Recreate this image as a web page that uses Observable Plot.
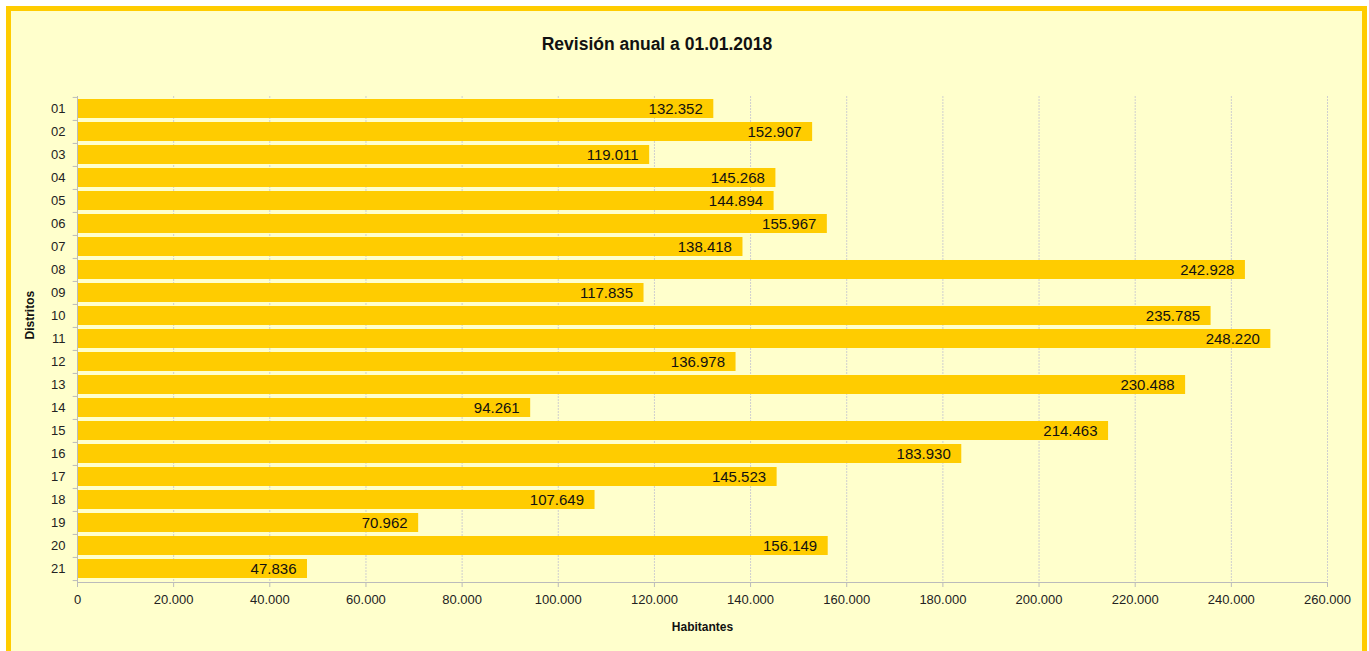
<!DOCTYPE html>
<html><head><meta charset="utf-8">
<script src="https://cdn.jsdelivr.net/npm/d3@7"></script>
<script src="https://cdn.jsdelivr.net/npm/@observablehq/plot@0.6"></script>
<style>
html,body{margin:0;padding:0;background:#fff;font-family:"Liberation Sans",Arial,sans-serif;}
#box{position:absolute;left:6px;top:6px;width:1351px;height:660px;border:5px solid #FFCC00;background:#FFFFCC;overflow:hidden;}
#title{position:absolute;top:23px;left:0;width:1292px;text-align:center;font-weight:bold;font-size:17.5px;color:#111;}
#chart{position:absolute;left:0;top:0;}
</style></head>
<body>
<div id="box"><div id="title">Revisión anual a 01.01.2018</div><div id="chart"></div></div>
<script>
const distritos = ["01","02","03","04","05","06","07","08","09","10","11","12","13","14","15","16","17","18","19","20","21"];
const habitantes = [132352,152907,119011,145268,144894,155967,138418,242928,117835,235785,248220,136978,230488,94261,214463,183930,145523,107649,70962,156149,47836];
const xTicks = [0,20000,40000,60000,80000,100000,120000,140000,160000,180000,200000,220000,240000,260000];

const data = distritos.map((d,i)=>({d, v: habitantes[i]}));
const loc = d3.formatLocale({decimal:",", thousands:".", grouping:[3], currency:["",""]});
const fmt = loc.format(",");
const H = 640, mt = 85, mb = 69;
const step = (H - mt - mb) / distritos.length;

const plot = Plot.plot({
  width: 1351, height: H,
  marginLeft: 66, marginRight: 35, marginTop: mt, marginBottom: mb,
  style: {background: "transparent", fontFamily: "Liberation Sans, Arial, sans-serif", fontSize: "13px", color: "#111"},
  x: {domain: [0, 260000], ticks: xTicks, tickFormat: fmt},
  y: {domain: distritos, paddingInner: 0.17, paddingOuter: 0.085, align: 0.5},
  marks: [
    Plot.gridX(xTicks, {stroke: "#cfcfcf", strokeOpacity: 1, strokeDasharray: "2,1"}),
    Plot.barX(data, {x: "v", y: "d", fill: "#FFCC00"}),
    Plot.text(data, {x: "v", y: "d", text: d => fmt(d.v), textAnchor: "end", dx: -11, dy: 0, fontSize: 15, fill: "#111"}),
    Plot.frame({anchor: "bottom", stroke: "#bbb"}),
    Plot.frame({anchor: "left", stroke: "#bbb"}),
    Plot.ruleY(distritos, {y: d => d, x1: -900, x2: 0, dy: -step/2, stroke: "#bbb"}),
    Plot.ruleY([distritos[distritos.length-1]], {y: d => d, x1: -900, x2: 0, dy: step/2, stroke: "#bbb"}),
    Plot.axisX({ticks: xTicks, tickFormat: fmt, tickSize: 5, stroke: "#bbb", fill: "#222", fontSize: 13, tickPadding: 7, label: null}),
    Plot.axisY({tickSize: 0, tickPadding: 12, fill: "#222", fontSize: 13, label: null}),
    Plot.text(["Habitantes"], {frameAnchor: "bottom", dy: 48, text: d => d, fontWeight: "bold", fontSize: 12, fill: "#111"}),
    Plot.text(["Distritos"], {frameAnchor: "left", dx: -47, rotate: -90, text: d => d, fontWeight: "bold", fontSize: 12, fill: "#111"})
  ]
});
document.getElementById("chart").appendChild(plot);
</script>
</body></html>
